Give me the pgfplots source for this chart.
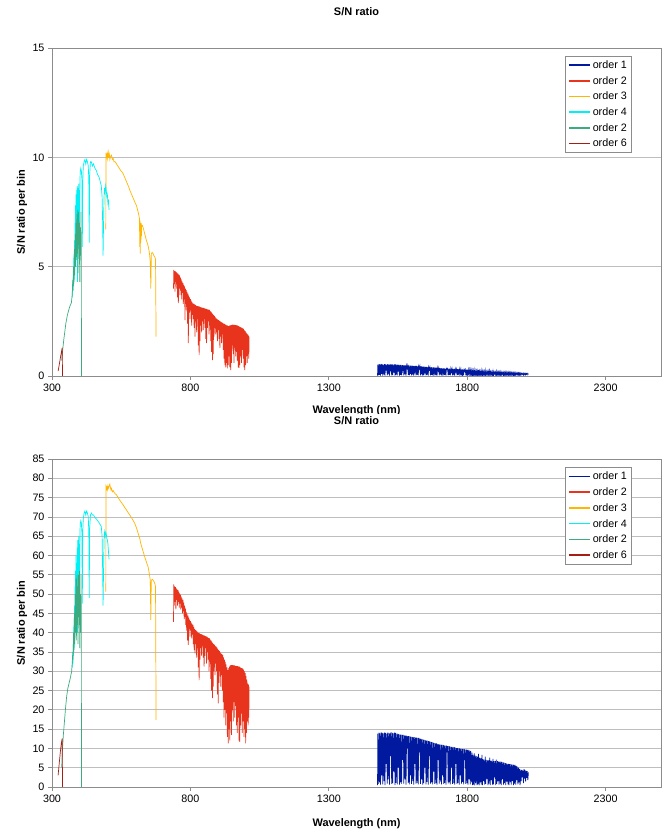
\documentclass[border=0pt]{standalone}
\usepackage{fontspec}
\setmainfont{Liberation Sans}
\usepackage{pgfplots}
\pgfplotsset{compat=1.18}
\definecolor{cO}{RGB}{0,25,158}
\definecolor{cT}{RGB}{232,52,28}
\definecolor{cH}{RGB}{255,182,0}
\definecolor{cF}{RGB}{0,240,245}
\definecolor{cG}{RGB}{60,172,128}
\definecolor{cS}{RGB}{165,30,20}
\definecolor{gridc}{RGB}{190,190,190}
\definecolor{axc}{RGB}{140,140,140}
\pgfplotsset{
  every axis title/.style={at={(0.5,1)}, anchor=center, font=\bfseries\fontsize{11}{13}\selectfont},
  snstyle/.style={
    scale only axis, width=609bp, height=328bp,
    xmin=300, xmax=2500,
    xtick={300,800,1300,1800,2300},
    tick pos=left, tick align=outside,
    major tick length=4bp,
    major tick style={draw=axc, line width=0.75bp},
    axis line style={draw=axc, line width=0.75bp},
    ymajorgrids=true,
    major grid style={draw=gridc, line width=0.75bp},
    /pgf/number format/assume math mode=true,
    /pgf/number format/set thousands separator={},
    tick label style={font=\fontsize{10.8}{12}\selectfont},
    xlabel style={font=\bfseries\fontsize{11}{13}\selectfont, at={(axis description cs:0.5,-0.105)}, anchor=center},
    ylabel style={font=\bfseries\fontsize{11}{13}\selectfont, at={(axis description cs:-0.049,0.5)}, anchor=center, rotate=0},
    xlabel={Wavelength (nm)}, ylabel={S/N ratio per bin}, title={S/N ratio},
    legend cell align=left,
    legend image code/.code={\draw[#1, line width=1.6bp] (0bp,0bp) -- (21bp,0bp);},
    legend style={at={(rel axis cs:0.842,0.976)}, anchor=north west, draw=axc, line width=0.75bp,
      font=\fontsize{10.8}{12}\selectfont, inner xsep=3bp, inner ysep=1bp,
      nodes={text height=7.2bp, text depth=0.5bp, inner ysep=4bp, inner xsep=2bp, line width=0.75bp}, row sep=0bp},
    every axis plot/.append style={line width=0.7bp},
  }
}
\begin{document}
\begin{tikzpicture}
\useasboundingbox (0bp,0bp) rectangle (662bp,829bp);
\begin{axis}[snstyle, at={(52bp,453bp)}, anchor=south west, ymin=0, ymax=15, ytick={0,5,10,15},
  title style={at={(axis description cs:0.5,1.1098)}}]
\addplot[cO] coordinates {(1476,0.02)(1477,0.52)(1479,0.03)(1481,0.54)(1483,0.05)(1485,0.53)(1487,0.02)(1489,0.55)(1491,0.1)(1493,0.53)(1495,0.02)(1497,0.52)(1499,0.06)(1501,0.54)(1503,0.02)(1505,0.53)(1507,0.25)(1509,0.52)(1511,0.03)(1513,0.54)(1515,0.08)
(1517,0.53)(1519,0.02)(1521,0.52)(1523,0.3)(1525,0.54)(1527,0.03)(1529,0.53)(1531,0.04)(1533,0.52)(1535,0.15)(1537,0.53)(1539,0.02)(1541,0.53)(1543,0.05)(1545,0.52)(1547,0.03)(1549,0.52)(1551,0.2)(1553,0.51)(1555,0.02)
(1557,0.51)(1559,0.05)(1561,0.51)(1563,0.03)(1565,0.5)(1567,0.28)(1569,0.5)(1571,0.03)(1573,0.49)(1575,0.08)(1577,0.49)(1579,0.02)(1581,0.48)(1583,0.36)(1585,0.48)(1587,0.04)(1589,0.48)(1591,0.03)(1593,0.47)(1595,0.1)
(1597,0.47)(1599,0.03)(1601,0.47)(1603,0.06)(1605,0.46)(1607,0.02)(1609,0.46)(1611,0.22)(1613,0.46)(1615,0.03)(1617,0.46)(1619,0.05)(1621,0.45)(1623,0.03)(1625,0.45)(1627,0.33)(1629,0.45)(1631,0.03)(1633,0.44)(1635,0.08)
(1637,0.44)(1639,0.02)(1641,0.43)(1643,0.04)(1645,0.43)(1647,0.2)(1649,0.42)(1651,0.03)(1653,0.42)(1655,0.05)(1657,0.41)(1659,0.02)(1661,0.41)(1663,0.3)(1665,0.4)(1667,0.03)(1669,0.4)(1671,0.05)(1673,0.39)(1675,0.03)
(1677,0.39)(1679,0.15)(1681,0.39)(1683,0.03)(1685,0.38)(1687,0.04)(1689,0.38)(1691,0.02)(1693,0.37)(1695,0.25)(1697,0.37)(1699,0.03)(1701,0.36)(1703,0.06)(1705,0.36)(1707,0.03)(1709,0.35)(1711,0.12)(1713,0.35)(1715,0.03)
(1717,0.35)(1719,0.05)(1721,0.34)(1723,0.02)(1725,0.34)(1727,0.3)(1729,0.34)(1731,0.03)(1733,0.33)(1735,0.05)(1737,0.33)(1739,0.03)(1741,0.33)(1743,0.18)(1745,0.33)(1747,0.03)(1749,0.32)(1751,0.04)(1753,0.32)(1755,0.02)
(1757,0.32)(1759,0.2)(1761,0.31)(1763,0.03)(1765,0.31)(1767,0.05)(1769,0.31)(1771,0.02)(1773,0.3)(1775,0.12)(1777,0.3)(1779,0.03)(1781,0.3)(1783,0.05)(1785,0.3)(1787,0.03)(1789,0.29)(1791,0.22)(1793,0.29)(1795,0.03)
(1797,0.29)(1799,0.04)(1801,0.29)(1803,0.02)(1805,0.28)(1807,0.1)(1809,0.28)(1811,0.03)(1813,0.27)(1815,0.05)(1817,0.26)(1819,0.02)(1821,0.24)(1823,0.03)(1825,0.27)(1827,0.02)(1829,0.23)(1831,0.05)(1833,0.23)(1835,0.02)
(1837,0.22)(1839,0.03)(1841,0.28)(1843,0.02)(1845,0.22)(1847,0.05)(1849,0.21)(1851,0.03)(1853,0.26)(1855,0.02)(1857,0.21)(1859,0.06)(1861,0.21)(1863,0.03)(1865,0.25)(1867,0.03)(1869,0.2)(1871,0.08)(1873,0.2)(1875,0.02)
(1877,0.2)(1879,0.04)(1881,0.24)(1883,0.02)(1885,0.19)(1887,0.07)(1889,0.19)(1891,0.03)(1893,0.22)(1895,0.03)(1897,0.19)(1899,0.1)(1901,0.18)(1903,0.02)(1905,0.21)(1907,0.03)(1909,0.18)(1911,0.06)(1913,0.18)(1915,0.03)
(1917,0.18)(1919,0.04)(1921,0.18)(1923,0.02)(1925,0.17)(1927,0.08)(1929,0.17)(1931,0.03)(1933,0.17)(1935,0.04)(1937,0.17)(1939,0.02)(1941,0.17)(1943,0.06)(1945,0.16)(1947,0.03)(1949,0.16)(1951,0.02)(1953,0.16)(1955,0.05)
(1957,0.16)(1959,0.03)(1961,0.15)(1963,0.06)(1965,0.15)(1967,0.02)(1969,0.15)(1971,0.04)(1973,0.15)(1975,0.03)(1977,0.14)(1979,0.07)(1981,0.14)(1983,0.03)(1985,0.14)(1987,0.05)(1989,0.13)(1991,0.02)(1993,0.13)(1995,0.06)(1997,0.13)(1999,0.08)(2001,0.12)(2003,0.04)(2005,0.13)(2007,0.07)(2009,0.12)(2011,0.05)(2013,0.12)(2015,0.08)(2017,0.12)(2019,0.06)(2021,0.11)};
\addlegendentry{order 1}
\addplot[cT] coordinates {(739,4.0)(740,4.85)(741.5,4.2)(743,4.8)(744.5,3.86)(746,4.78)(747.5,4.3)(749,4.75)(750.5,4.0)(752,4.72)(753.5,3.6)(755,4.68)(756.5,3.33)(758,4.64)(759.5,4.0)(761,4.6)(762.5,3.7)(764,4.5)(765.5,3.9)(767,4.42)(768.5,3.5)(770,4.33)(771.5,3.8)(773,4.25)(774.5,3.3)(776,4.17)(777.5,3.5)(779,4.1)(780.5,2.56)(782,4.0)(783.5,3.3)(785,3.93)(786.5,3.0)(788,3.85)(789.5,2.4)(791,3.77)(792.5,1.5)(794,3.68)(795.5,2.9)(797,3.6)(798.5,2.6)(800,3.52)(801.5,3.0)(803,3.45)(804.5,2.3)(806,3.38)(807.5,2.8)(809,3.32)(810.5,2.6)(812,3.3)(813.5,2.2)(815,3.27)(816.5,1.8)(818,3.25)(819.5,2.5)(821,3.22)(822.5,2.0)(824,3.2)(825.5,2.6)(827,3.19)(828.5,1.4)(830,3.18)(831.5,0.96)(833,3.17)(834.5,1.6)(836,3.15)(837.5,2.3)(839,3.14)(840.5,2.0)(842,3.13)(843.5,2.5)(845,3.12)(846.5,2.1)(848,3.11)(849.5,2.6)(851,3.09)(852.5,2.2)(854,3.08)(855.5,1.7)(857,3.07)(858.5,1.5)(860,3.06)(861.5,2.2)(863,3.04)(864.5,2.5)(866,3.03)(867.5,1.9)(869,3.02)(870.5,2.3)(872,2.97)(873.5,1.6)(875,2.93)(876.5,1.1)(878,2.88)(879.5,0.73)(881,2.83)(882.5,1.0)(884,2.78)(885.5,1.8)(887,2.74)(888.5,2.2)(890,2.69)(891.5,1.9)(893,2.64)(894.5,2.0)(896,2.61)(897.5,1.6)(899,2.58)(900.5,2.1)(902,2.55)(903.5,1.7)(905,2.52)(906.5,1.28)(908,2.5)(909.5,1.8)(911,2.47)(912.5,1.5)(914,2.45)(915.5,1.9)(917,2.42)(918.5,1.2)(920,2.4)(921.5,0.8)(923,2.38)(924.5,0.5)(926,2.36)(927.5,0.4)(929,2.33)(930.5,0.6)(932,2.32)(933.5,0.35)(935,2.3)(936.5,0.5)(938,2.28)(939.5,0.9)(941,2.3)(942.5,0.4)(944,2.32)(945.5,0.27)(947,2.33)(948.5,0.6)(950,2.34)(951.5,1.4)(953,2.35)(954.5,1.0)(956,2.34)(957.5,0.6)(959,2.34)(960.5,1.3)(962,2.33)(963.5,0.9)(965,2.33)(966.5,1.1)(968,2.31)(969.5,0.7)(971,2.3)(972.5,0.4)(974,2.28)(975.5,0.37)(977,2.26)(978.5,0.5)(980,2.24)(981.5,0.9)(983,2.22)(984.5,0.6)(986,2.2)(987.5,1.2)(989,2.18)(990.5,0.8)(992,2.15)(993.5,0.4)(995,2.1)(996.5,0.27)(998,2.05)(999.5,0.5)(1001,2.0)(1002.5,0.9)(1004,1.95)(1005.5,0.6)(1007,1.9)(1008.5,1.0)(1010,1.85)(1011,0.8)(1012,1.8)};
\addlegendentry{order 2}
\addplot[cH] coordinates {(494.5,6.7)(494.7,8.5)(495,10.2)(497,10.0)(499,10.15)(501,9.95)(503,10.25)(505,10.05)(507,10.15)(509,9.9)(512,10.05)(515,10.1)(518,9.9)(521,9.95)(524,9.8)(528,9.8)(533,9.7)(538,9.6)(543,9.5)(548,9.4)(552,9.35)(557,9.25)(562,9.1)(567,8.95)(572,8.8)(577,8.65)(581,8.5)(586,8.35)(591,8.2)(596,8.05)(601,7.9)(605,7.8)(609,7.6)(613,7.4)(616,7.2)(617,5.9)(618,7.1)(619,5.6)(620,7.0)(621,6.1)(622,7.0)(623,6.4)(624,6.9)(626,6.9)(629,6.8)(633,6.6)(637,6.4)(641,6.2)(645,6.05)(648,5.9)(651,5.7)(653,5.5)(655,5.2)(657,4.0)(658,4.9)(659,5.6)(662,5.65)(665,5.6)(668,5.5)(671,5.45)(674,5.35)(675,3.5)(676,1.8)};
\addlegendentry{order 3}
\addplot[cF] coordinates {(373,3.6)(375,4.3)(376,3.9)(377,4.8)(378,4.1)(379,5.5)(380,4.4)(381,6.2)(382,4.8)(383,7.0)(384,5.2)(385,7.8)(386,5.0)(387,8.3)(388,5.5)(389,8.5)(390,6.2)(391,8.7)(392,4.3)(393,8.2)(394,5.8)(395,8.6)(396,6.8)(397,8.8)(398,5.5)(399,8.5)(400,7.0)(401,9.0)(402,9.3)(404,9.5)(406,9.4)(408,9.0)(409.5,5.9)(411,8.8)(413,9.6)(416,9.8)(419,9.9)(422,9.7)(425,9.9)(428,9.8)(431,9.6)(433,9.0)(434.5,6.1)(436,9.2)(439,9.8)(442,9.8)(446,9.6)(450,9.7)(455,9.5)(460,9.4)(465,9.2)(470,9.1)(474,8.9)(478,8.7)(481,8.2)(483,7.0)(484.5,5.5)(486,6.8)(488,8.2)(490,8.6)(492,8.4)(494,8.7)(496,8.5)(498,8.2)(500,8.3)(502,7.9)(504,8.0)(506,7.6)};
\addlegendentry{order 4}
\addplot[cG] coordinates {(335,0.7)(338,1.1)(342,1.6)(346,2.0)(350,2.4)(355,2.75)(360,3.0)(365,3.2)(370,3.35)(373,3.7)(375,4.4)(376,3.9)(378,5.0)(379,4.2)(381,5.8)(382,4.6)(384,6.5)(385,5.0)(387,7.0)(388,5.3)(390,7.4)(391,5.6)(393,7.6)(394,4.7)(396,7.5)(397,6.0)(399,7.0)(400,4.3)(402,6.8)(403,5.5)(405,7.5)(406,4.5)(406.5,0)};
\addlegendentry{order 2}
\addplot[cS] coordinates {(322,0.22)(326,0.5)(330,0.8)(334,1.1)(337,1.3)(337.5,0.6)(338,0)};
\addlegendentry{order 6}
\end{axis}
\fill[white] (0bp,0bp) rectangle (662bp,415bp);
\begin{axis}[snstyle, at={(52bp,42bp)}, anchor=south west, ymin=0, ymax=85, ytick={0,5,...,85},
  title style={at={(axis description cs:0.5,1.1159)}},
  xlabel style={at={(axis description cs:0.5,-0.113)}},
  legend style={at={(rel axis cs:0.842,0.9745)}}]
\addplot[cO] coordinates {(1476,0.5)(1477,13.8)(1479,0.8)(1481,14.1)(1483,1.2)(1485,13.9)(1487,0.6)(1489,14.2)(1491,3)(1493,14.0)(1495,0.7)(1497,13.9)(1499,1.5)(1501,14.1)(1503,0.5)(1505,14.0)(1507,6)(1509,13.8)(1511,0.9)(1513,14.1)(1515,2)
(1517,14.0)(1519,0.6)(1521,13.9)(1523,8)(1525,14.2)(1527,0.8)(1529,14.0)(1531,1.0)(1533,13.9)(1535,4)(1537,14.1)(1539,0.5)(1541,14.0)(1543,1.1)(1545,13.8)(1547,0.7)(1549,13.8)(1551,5)(1553,13.7)(1555,0.6)
(1557,13.6)(1559,1.2)(1561,13.6)(1563,0.8)(1565,13.5)(1567,7)(1569,13.5)(1571,0.9)(1573,13.4)(1575,2)(1577,13.3)(1579,0.6)(1581,13.3)(1583,10)(1585,13.2)(1587,1.0)(1589,13.2)(1591,0.7)(1593,13.1)(1595,3)
(1597,13.0)(1599,0.8)(1601,13.0)(1603,1.5)(1605,12.9)(1607,0.6)(1609,12.9)(1611,6)(1613,12.8)(1615,0.9)(1617,12.8)(1619,1.1)(1621,12.7)(1623,0.7)(1625,12.7)(1627,9)(1629,12.6)(1631,0.8)(1633,12.5)(1635,2)
(1637,12.4)(1639,0.6)(1641,12.3)(1643,1.0)(1645,12.2)(1647,5)(1649,12.1)(1651,0.7)(1653,12.0)(1655,1.3)(1657,12.0)(1659,0.6)(1661,11.9)(1663,8)(1665,11.8)(1667,0.9)(1669,11.7)(1671,1.2)(1673,11.6)(1675,0.7)
(1677,11.5)(1679,4)(1681,11.4)(1683,0.8)(1685,11.3)(1687,1.0)(1689,11.3)(1691,0.6)(1693,11.2)(1695,7)(1697,11.1)(1699,0.9)(1701,11.0)(1703,1.4)(1705,11.0)(1707,0.7)(1709,10.9)(1711,3)(1713,10.9)(1715,0.8)
(1717,10.8)(1719,1.1)(1721,10.7)(1723,0.6)(1725,10.7)(1727,9)(1729,10.6)(1731,0.9)(1733,10.6)(1735,1.2)(1737,10.5)(1739,0.7)(1741,10.4)(1743,5)(1745,10.4)(1747,0.8)(1749,10.3)(1751,1.0)(1753,10.3)(1755,0.6)
(1757,10.2)(1759,6)(1761,10.1)(1763,0.8)(1765,10.1)(1767,1.1)(1769,10.0)(1771,0.6)(1773,10.0)(1775,3)(1777,9.9)(1779,0.9)(1781,9.9)(1783,1.3)(1785,9.8)(1787,0.7)(1789,9.8)(1791,7)(1793,9.7)(1795,0.8)
(1797,9.7)(1799,1.0)(1801,9.6)(1803,0.6)(1805,9.6)(1807,2)(1809,9.5)(1811,0.7)(1813,9.3)(1815,1.2)(1817,8.9)(1819,0.5)(1821,8.3)(1823,0.6)(1825,8.7)(1827,0.4)(1829,8.1)(1831,1.0)(1833,8.0)(1835,0.5)
(1837,7.9)(1839,0.7)(1841,8.6)(1843,0.4)(1845,7.6)(1847,1.2)(1849,7.4)(1851,0.6)(1853,8.3)(1855,0.5)(1857,7.2)(1859,1.5)(1861,7.1)(1863,0.6)(1865,7.9)(1867,0.8)(1869,7.0)(1871,2)(1873,6.9)(1875,0.5)
(1877,6.9)(1879,0.9)(1881,7.6)(1883,0.5)(1885,6.8)(1887,1.8)(1889,6.8)(1891,0.6)(1893,7.3)(1895,0.7)(1897,6.7)(1899,2.5)(1901,6.7)(1903,0.5)(1905,7.1)(1907,0.8)(1909,6.7)(1911,1.5)(1913,6.6)(1915,0.6)
(1917,6.6)(1919,0.9)(1921,6.6)(1923,0.5)(1925,6.5)(1927,2)(1929,6.4)(1931,0.6)(1933,6.3)(1935,1.0)(1937,6.2)(1939,0.5)(1941,6.1)(1943,1.4)(1945,6.0)(1947,0.7)(1949,6.0)(1951,0.5)(1953,5.9)(1955,1.2)
(1957,5.9)(1959,0.6)(1961,5.8)(1963,1.5)(1965,5.8)(1967,0.5)(1969,5.7)(1971,0.9)(1973,5.7)(1975,0.6)(1977,5.5)(1979,1.8)(1981,5.3)(1983,0.7)(1985,5.0)(1987,1.2)(1989,4.7)(1991,0.5)(1993,4.5)(1995,1.5)(1997,4.4)(1999,2.5)(2001,4.3)(2003,1.0)(2005,4.6)(2007,2.2)(2009,4.4)(2011,1.4)(2013,4.2)(2015,2.4)(2017,4.1)(2019,1.8)(2021,3.8)};
\addlegendentry{order 1}
\addplot[cT] coordinates {(739,42.8)(740,52.5)(741.5,47)(743,52.0)(744.5,48)(746,51.8)(747.5,46)(749,51.5)(750.5,48.5)(752,51.2)(753.5,47)(755,51.0)(756.5,48)(758,50.6)(759.5,46.5)(761,50.2)(762.5,47.5)(764,49.8)(765.5,46)(767,49.3)(768.5,46.5)(770,48.9)(771.5,45)(773,48.5)(774.5,45.5)(776,47.8)(777.5,43.5)(779,47.0)(780.5,44)(782,46.2)(783.5,42)(785,45.4)(786.5,40.5)(788,44.9)(789.5,38)(791,44.4)(792.5,36.8)(794,43.9)(795.5,41)(797,43.4)(798.5,39)(800,43.0)(801.5,40.5)(803,42.6)(804.5,38.5)(806,42.3)(807.5,39.5)(809,42.0)(810.5,37)(812,41.5)(813.5,35.5)(815,41.0)(816.5,34.6)(818,40.7)(819.5,37)(821,40.5)(822.5,33.5)(824,40.3)(825.5,36)(827,40.1)(828.5,31)(830,39.9)(831.5,27.7)(833,39.8)(834.5,33)(836,39.7)(837.5,36)(839,39.6)(840.5,34)(842,39.5)(843.5,36.5)(845,39.4)(846.5,33.5)(848,39.3)(849.5,31.2)(851,39.2)(852.5,34)(854,39.1)(855.5,36)(857,39.0)(858.5,32)(860,38.9)(861.5,35)(863,38.8)(864.5,33)(866,38.6)(867.5,30)(869,38.5)(870.5,32.5)(872,38.2)(873.5,28)(875,37.9)(876.5,25)(878,37.6)(879.5,23)(881,37.3)(882.5,26)(884,37.0)(885.5,31)(887,36.8)(888.5,29)(890,36.6)(891.5,32)(893,36.4)(894.5,30)(896,36.1)(897.5,24)(899,35.8)(900.5,21.7)(902,35.5)(903.5,27)(905,35.2)(906.5,30)(908,34.9)(909.5,26)(911,34.6)(912.5,29)(914,34.4)(915.5,25)(917,34.2)(918.5,22)(920,33.6)(921.5,18)(923,33.0)(924.5,20)(926,32.4)(927.5,16)(929,31.8)(930.5,19.1)(932,31.0)(933.5,13)(935,30.3)(936.5,11.3)(938,30.8)(939.5,15)(941,31.2)(942.5,12)(944,31.5)(945.5,17)(947,31.6)(948.5,13.5)(950,31.6)(951.5,20)(953,31.6)(954.5,17)(956,31.5)(957.5,22)(959,31.5)(960.5,18)(962,31.4)(963.5,21)(965,31.4)(966.5,16)(968,31.3)(969.5,14)(971,31.3)(972.5,18)(974,31.2)(975.5,12)(977,31.2)(978.5,11.7)(980,31.0)(981.5,16)(983,30.9)(984.5,19)(986,30.8)(987.5,14)(989,30.7)(990.5,17)(992,30.4)(993.5,13)(995,30.0)(996.5,15)(998,29.5)(999.5,11.3)(1001,28.8)(1002.5,14)(1004,27.8)(1005.5,17)(1007,26.8)(1008.5,16)(1010,26.5)(1011,18)(1012,26.0)};
\addlegendentry{order 2}
\addplot[cH] coordinates {(494.5,50.6)(494.7,65)(495,77.8)(497,77.2)(499,78.0)(501,77.0)(503,77.8)(505,77.5)(507,78.2)(509,78.5)(511,77.6)(513,77.0)(515,77.4)(518,76.5)(521,76.8)(524,76.4)(528,76.0)(533,75.7)(539,75.0)(545,74.3)(551,73.7)(557,73.1)(563,72.4)(569,71.8)(575,71.1)(581,70.5)(587,69.8)(593,69.1)(599,68.3)(605,67.2)(611,65.8)(617,64.4)(621,63.0)(626,61.8)(631,60.6)(636,59.4)(641,58.3)(647,57.1)(651,55.5)(655,53.6)(657,43.3)(658,50)(659,53.6)(663,53.8)(668,53.3)(672,52.6)(674,51.9)(675,35)(676,17.4)};
\addlegendentry{order 3}
\addplot[cF] coordinates {(373,31)(375,34)(376,32)(377,37)(378,34)(379,42)(380,36)(381,47)(382,38)(383,52)(384,40)(385,56)(386,42)(387,60)(388,45)(389,58)(390,48)(391,62)(392,40)(393,64)(394,46)(395,60)(396,52)(397,65)(398,45)(399,63)(400,55)(401,66)(402,68)(404,69)(406,68.5)(408,66)(409.5,47.5)(411,66)(413,69.5)(416,71)(419,71.5)(422,70.5)(425,71.5)(428,71)(431,70)(433,66)(434.5,49)(436,67)(439,70.5)(442,71)(446,70.5)(450,70.5)(455,69.8)(460,69.5)(465,69)(470,68.5)(474,68)(478,67.5)(481,65)(483,56)(484.5,47)(486,55)(488,64)(490,66)(492,65)(494,66)(496,65.5)(498,64.5)(500,64)(502,63)(504,61)(506,59)};
\addlegendentry{order 4}
\addplot[cG] coordinates {(335,5)(338,10)(341,13.5)(345,17)(349,20.5)(353,23.5)(357,25.5)(362,27)(367,28.5)(371,30)(373,32)(375,35)(376,33)(378,40)(379,35)(381,45)(382,37)(384,50)(385,40)(387,54)(388,38)(390,55)(391,42)(393,52)(394,37)(396,55)(397,44)(399,56)(400,36)(402,50)(403,40)(405,55)(406,37)(406.5,0)};
\addlegendentry{order 2}
\addplot[cS] coordinates {(322,3.0)(326,6)(330,9)(334,11.5)(337,12.6)(337.5,6)(338,0)};
\addlegendentry{order 6}
\end{axis}
\end{tikzpicture}
\end{document}
